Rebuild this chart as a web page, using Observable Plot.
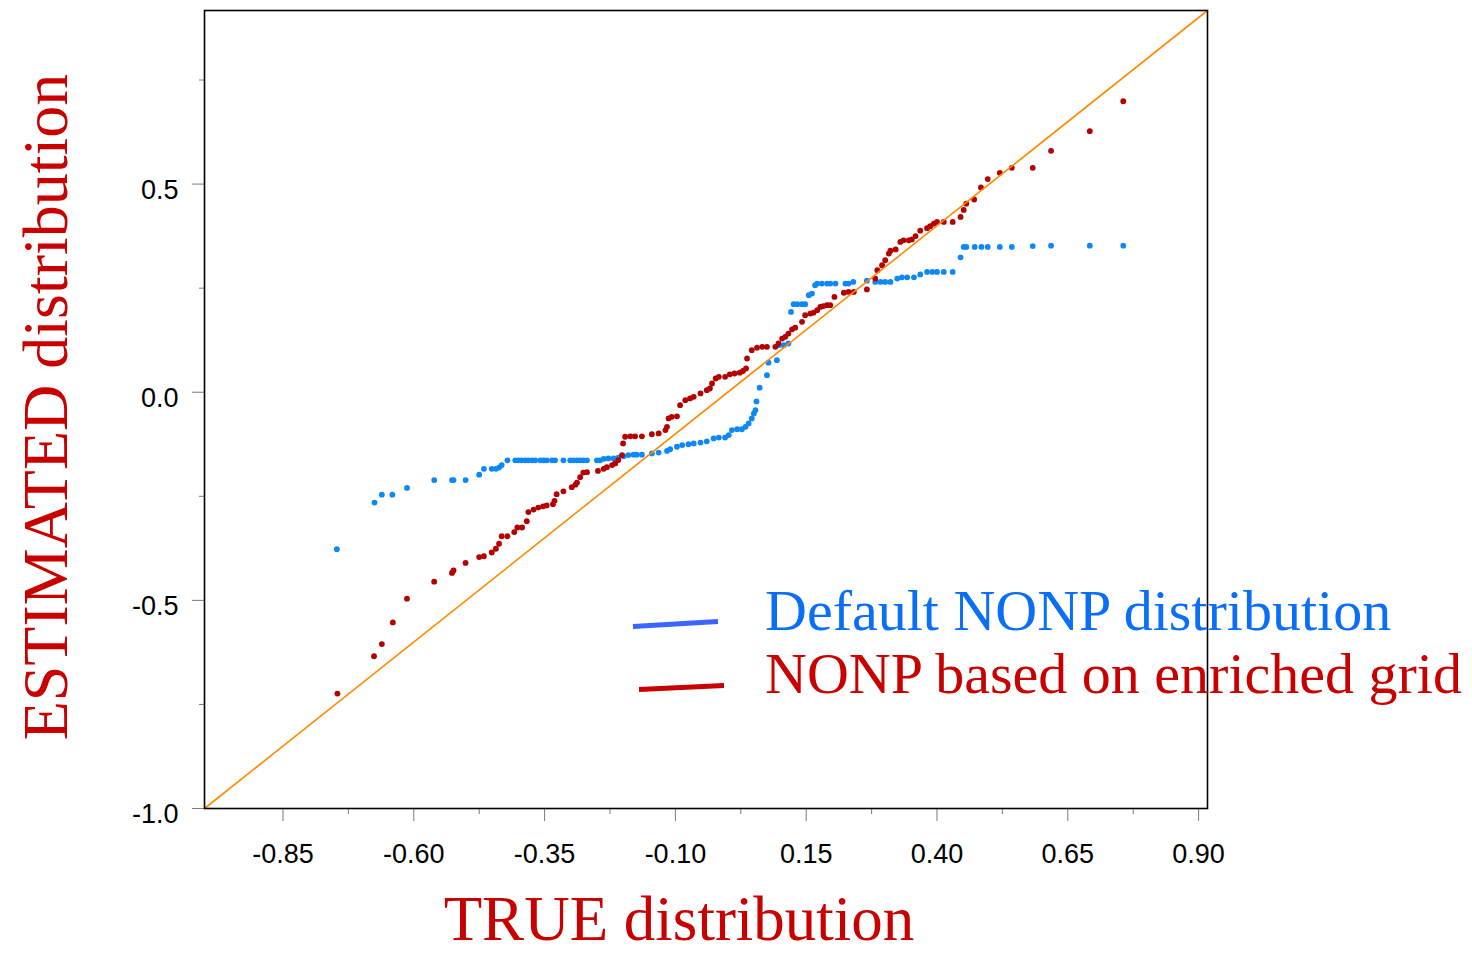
<!DOCTYPE html>
<html>
<head>
<meta charset="utf-8">
<script src="https://cdn.jsdelivr.net/npm/d3@7"></script>
<script src="https://cdn.jsdelivr.net/npm/@observablehq/plot@0.6"></script>
<style>
  html, body { margin: 0; padding: 0; background: #fff; }
  #page { position: relative; width: 1472px; height: 954px; overflow: hidden; }
  #plot { position: absolute; left: 0; top: 0; }
  #notes { position: absolute; left: 0; top: 0; pointer-events: none; }
</style>
</head>
<body>
<div id="page">
  <div id="plot"></div>
  <svg id="notes" width="1472" height="954" font-family="'Liberation Serif', 'Times New Roman', serif"></svg>
</div>
<script>
// Common axis range for true and estimated quantiles
const axisMin = -1.0;
const axisMax = 0.917;

// Tick positions
const xTicks = [-0.85, -0.60, -0.35, -0.10, 0.15, 0.40, 0.65, 0.90];
const xMinorTicks = [-0.725, -0.475, -0.225, 0.025, 0.275, 0.525, 0.775];
const yTicks = [-1.0, -0.5, 0.0, 0.5];
const yMinorTicks = [-0.75, -0.25, 0.25, 0.75];

// Reference line y = x
const identityLine = [axisMin, axisMax];

// Series labels and colours
const seriesNames = ["Default NONP distribution", "NONP based on enriched grid"];
const seriesTextColors = ["#0a6ef7", "#c80000"];
const seriesSwatchColors = ["#3a66ff", "#c80000"];
const dotColors = ["#0d88f5", "#b40000"];

// Default NONP: true quantile vs estimated quantile
const defaultTrue = [
  -0.747, -0.675, -0.661, -0.641, -0.613, -0.561, -0.527, -0.524, -0.501, -0.475,
  -0.466, -0.451, -0.443, -0.437, -0.432, -0.421, -0.406, -0.400, -0.394, -0.387,
  -0.381, -0.374, -0.368, -0.358, -0.352, -0.346, -0.336, -0.330, -0.314, -0.301,
  -0.295, -0.288, -0.282, -0.276, -0.269, -0.250, -0.244, -0.237, -0.228, -0.218,
  -0.209, -0.199, -0.190, -0.180, -0.174, -0.164, -0.145, -0.132, -0.116, -0.110,
  -0.097, -0.087, -0.075, -0.065, -0.052, -0.040, -0.027, -0.017, -0.005, 0.002,
  0.008, 0.018, 0.027, 0.034, 0.040, 0.046, 0.050, 0.053, 0.055, 0.061,
  0.075, 0.078, 0.094, 0.097, 0.107, 0.116, 0.121, 0.126, 0.133, 0.142,
  0.148, 0.155, 0.161, 0.167, 0.171, 0.180, 0.190, 0.196, 0.206, 0.225,
  0.231, 0.240, 0.266, 0.282, 0.292, 0.301, 0.311, 0.324, 0.333, 0.343,
  0.356, 0.368, 0.381, 0.391, 0.400, 0.413, 0.430, 0.445, 0.451, 0.456,
  0.472, 0.485, 0.497, 0.520, 0.543, 0.583, 0.618, 0.692, 0.756
];
const defaultEst = [
  -0.377, -0.265, -0.246, -0.246, -0.230, -0.211, -0.211, -0.211, -0.211, -0.198,
  -0.184, -0.184, -0.184, -0.181, -0.175, -0.1635, -0.1635, -0.1635, -0.1635, -0.1635,
  -0.1635, -0.1635, -0.1635, -0.1635, -0.1635, -0.1635, -0.1635, -0.1635, -0.1635, -0.1635,
  -0.1635, -0.1635, -0.1635, -0.1635, -0.1635, -0.1635, -0.1635, -0.160, -0.159, -0.159,
  -0.157, -0.154, -0.151, -0.150, -0.150, -0.150, -0.147, -0.145, -0.141, -0.137,
  -0.131, -0.127, -0.125, -0.123, -0.121, -0.118, -0.111, -0.109, -0.109, -0.103,
  -0.091, -0.089, -0.089, -0.083, -0.075, -0.063, -0.051, -0.043, -0.022, 0.011,
  0.041, 0.071, 0.077, 0.113, 0.113, 0.117, 0.193, 0.2115, 0.2115, 0.2115,
  0.2115, 0.233, 0.237, 0.257, 0.261, 0.261, 0.261, 0.261, 0.261, 0.261,
  0.261, 0.265, 0.268, 0.265, 0.265, 0.265, 0.265, 0.273, 0.276, 0.276,
  0.276, 0.283, 0.289, 0.289, 0.289, 0.289, 0.289, 0.324, 0.349, 0.349,
  0.349, 0.349, 0.349, 0.349, 0.349, 0.351, 0.352, 0.352, 0.352
];

// NONP on enriched grid: true quantile vs estimated quantile
const enrichedTrue = [
  -0.746, -0.676, -0.661, -0.640, -0.613, -0.561, -0.527, -0.524, -0.501, -0.475,
  -0.466, -0.451, -0.443, -0.437, -0.432, -0.421, -0.408, -0.402, -0.393, -0.384,
  -0.381, -0.371, -0.362, -0.353, -0.346, -0.334, -0.331, -0.327, -0.314, -0.298,
  -0.291, -0.288, -0.282, -0.276, -0.269, -0.248, -0.237, -0.231, -0.221, -0.215,
  -0.209, -0.202, -0.200, -0.196, -0.186, -0.177, -0.164, -0.145, -0.132, -0.119,
  -0.116, -0.113, -0.107, -0.097, -0.091, -0.081, -0.072, -0.065, -0.052, -0.040,
  -0.034, -0.030, -0.023, -0.017, -0.005, 0.004, 0.013, 0.023, 0.029, 0.035,
  0.037, 0.046, 0.056, 0.066, 0.075, 0.091, 0.097, 0.104, 0.110, 0.116,
  0.123, 0.129, 0.142, 0.148, 0.158, 0.164, 0.171, 0.177, 0.183, 0.190,
  0.196, 0.204, 0.222, 0.231, 0.241, 0.266, 0.282, 0.286, 0.295, 0.301,
  0.308, 0.311, 0.321, 0.330, 0.336, 0.346, 0.352, 0.359, 0.368, 0.381,
  0.387, 0.394, 0.400, 0.413, 0.430, 0.445, 0.451, 0.456, 0.471, 0.484,
  0.497, 0.520, 0.543, 0.583, 0.618, 0.692, 0.756
];
const enrichedEst = [
  -0.724, -0.634, -0.605, -0.553, -0.496, -0.455, -0.434, -0.428, -0.410, -0.396,
  -0.394, -0.385, -0.376, -0.364, -0.346, -0.346, -0.336, -0.325, -0.325, -0.310,
  -0.288, -0.282, -0.277, -0.274, -0.272, -0.269, -0.261, -0.245, -0.238, -0.228,
  -0.222, -0.217, -0.204, -0.193, -0.192, -0.189, -0.184, -0.180, -0.175, -0.171,
  -0.163, -0.151, -0.123, -0.107, -0.106, -0.106, -0.106, -0.101, -0.099, -0.091,
  -0.083, -0.063, -0.059, -0.058, -0.031, -0.019, -0.015, -0.011, -0.003, 0.005,
  0.009, 0.021, 0.033, 0.037, 0.037, 0.043, 0.045, 0.047, 0.051, 0.057,
  0.081, 0.101, 0.107, 0.109, 0.109, 0.109, 0.117, 0.129, 0.133, 0.141,
  0.151, 0.155, 0.169, 0.185, 0.189, 0.191, 0.197, 0.205, 0.207, 0.209,
  0.209, 0.229, 0.239, 0.241, 0.241, 0.247, 0.273, 0.293, 0.305, 0.317,
  0.333, 0.340, 0.343, 0.361, 0.365, 0.365, 0.367, 0.375, 0.388, 0.394,
  0.399, 0.405, 0.409, 0.409, 0.409, 0.421, 0.438, 0.453, 0.463, 0.492,
  0.512, 0.527, 0.539, 0.539, 0.580, 0.627, 0.699
];

const defaultRows = defaultTrue.map((x, i) => ({x, y: defaultEst[i]}));
const enrichedRows = enrichedTrue.map((x, i) => ({x, y: enrichedEst[i]}));

const tickGray = "#7a7a7a";

const chart = Plot.plot({
  width: 1472,
  height: 880,
  marginLeft: 204,
  marginRight: 265,
  marginTop: 10,
  marginBottom: 72,
  x: {domain: [axisMin, axisMax]},
  y: {domain: [axisMin, axisMax]},
  style: {
    fontFamily: "'Liberation Sans', Arial, sans-serif",
    fontSize: "27px",
    color: "#000",
    background: "transparent",
    overflow: "visible"
  },
  marks: [
    // x axis: major ticks with labels, minor ticks without
    Plot.axisX({ticks: xTicks, tickSize: 13, tickPadding: 22, tickFormat: d => d.toFixed(2),
                stroke: tickGray, fill: "#000", label: null}),
    Plot.axisX({ticks: xMinorTicks, tickSize: 6, tickFormat: () => "",
                stroke: tickGray, fill: "none", label: null}),
    // y axis: tick lines, then labels nudged slightly down
    Plot.axisY({ticks: yTicks, tickSize: 12, tickFormat: () => "",
                stroke: tickGray, fill: "none", label: null}),
    Plot.axisY({ticks: yMinorTicks, tickSize: 5, tickFormat: () => "",
                stroke: tickGray, fill: "none", label: null}),
    Plot.axisY({ticks: yTicks, tickSize: 0, tickPadding: 26, dy: 6,
                tickFormat: d => d.toFixed(1), fill: "#000", label: null}),
    Plot.dot(defaultRows, {x: "x", y: "y", r: 2.9, fill: dotColors[0], stroke: null}),
    Plot.dot(enrichedRows, {x: "x", y: "y", r: 2.9, fill: dotColors[1], stroke: null}),
    Plot.line(identityLine, {x: d => d, y: d => d, stroke: "#ff8a00", strokeWidth: 1.6}),
    Plot.frame({stroke: "#000", strokeWidth: 1.6})
  ]
});
document.getElementById("plot").append(chart);

// Axis titles and legend
const notes = d3.select("#notes");
notes.append("text")
  .attr("x", 679).attr("y", 940)
  .attr("text-anchor", "middle")
  .attr("font-size", 63)
  .attr("fill", "#c80000")
  .text("TRUE distribution");
notes.append("text")
  .attr("transform", "translate(67,407) rotate(-90)")
  .attr("text-anchor", "middle")
  .attr("font-size", 64)
  .attr("fill", "#c80000")
  .text("ESTIMATED distribution");

const legendRows = [
  {swatch: [633, 626.5, 718, 621.5], textY: 630},
  {swatch: [639, 689.5, 724, 685.5], textY: 693}
];
legendRows.forEach((row, i) => {
  const [x1, y1, x2, y2] = row.swatch;
  notes.append("line")
    .attr("x1", x1).attr("y1", y1).attr("x2", x2).attr("y2", y2)
    .attr("stroke", seriesSwatchColors[i])
    .attr("stroke-width", 5);
  notes.append("text")
    .attr("x", 765).attr("y", row.textY)
    .attr("font-size", 58)
    .attr("fill", seriesTextColors[i])
    .text(seriesNames[i]);
});
</script>
</body>
</html>
